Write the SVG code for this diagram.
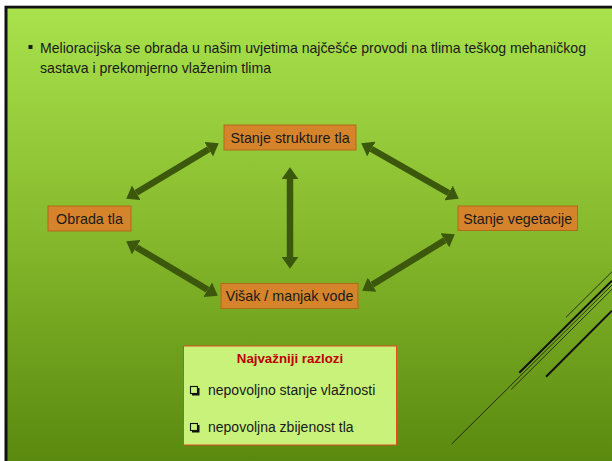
<svg xmlns="http://www.w3.org/2000/svg" width="612" height="461" viewBox="0 0 612 461">
<defs>
<linearGradient id="bg" x1="0" y1="0" x2="0" y2="1">
<stop offset="0" stop-color="#a9e24d"/>
<stop offset="0.5" stop-color="#86b92c"/>
<stop offset="1" stop-color="#5a890f"/>
</linearGradient>
<marker id="ah" viewBox="0 0 1.8 2.6" refX="0" refY="1.3" markerWidth="1.8" markerHeight="2.6" markerUnits="strokeWidth" orient="auto-start-reverse">
<path d="M0,0 L1.8,1.3 L0,2.6 Z" fill="#3b580c"/>
</marker>
</defs>
<style>
.node rect{fill:#d5842b;stroke:#b06a1c;stroke-width:1}
.node text{font-family:"Liberation Sans",Arial,sans-serif;font-size:14.3px;fill:#1a1a1a;text-anchor:middle}
.conn path{fill:none;stroke:#3b580c;stroke-width:6.5;marker-start:url(#ah);marker-end:url(#ah)}
.hdr{font-family:"Liberation Sans",Arial,sans-serif;font-size:14.1px;fill:#1a1a1a}
.deco line{stroke:#111;stroke-linecap:butt}
.box text{font-family:"Liberation Sans",Arial,sans-serif;font-size:14px;fill:#1a1a1a}
</style>
<rect x="0" y="0" width="612" height="461" fill="#ffffff"/>
<rect x="4.5" y="5.7" width="607.5" height="455.3" fill="#111"/>
<rect x="7.5" y="8.5" width="604.5" height="452.5" fill="url(#bg)"/>

<g id="header">
<rect x="28.5" y="45" width="4" height="4" fill="#1a1a1a"/>
<text class="hdr" x="40" y="52.5">Melioracijska se obrada u našim uvjetima najčešće provodi na tlima teškog mehaničkog</text>
<text class="hdr" x="40" y="72.5">sastava i prekomjerno vlaženim tlima</text>
</g>

<g class="deco">
<line x1="566" y1="317.3" x2="612" y2="271.7" stroke-width="0.8"/>
<line x1="519.3" y1="372.7" x2="612" y2="280.7" stroke-width="2"/>
<line x1="511.3" y1="389.3" x2="612" y2="289.3" stroke-width="0.8"/>
<line x1="451.7" y1="444" x2="612" y2="285" stroke-width="0.8"/>
<line x1="546" y1="376.7" x2="612" y2="310.7" stroke-width="2"/>
</g>

<g class="conn" id="connectors">
<path d="M136.3,192.8 L208.7,149.2"/>
<path d="M290,179 L290,257"/>
<path d="M136.3,247.2 L207.7,289.8"/>
<path d="M371.4,149 L448.6,193"/>
<path d="M372.2,284.7 L444.8,240.3"/>
</g>

<g class="node" id="struktura">
<rect x="224" y="125" width="132" height="25"/>
<text x="290" y="142.5">Stanje strukture tla</text>
</g>
<g class="node" id="obrada">
<rect x="48" y="206" width="83" height="25"/>
<text x="89.5" y="223.5">Obrada tla</text>
</g>
<g class="node" id="vegetacija">
<rect x="458" y="206" width="119.5" height="24.5"/>
<text x="517.7" y="223.5">Stanje vegetacije</text>
</g>
<g class="node" id="visak">
<rect x="221" y="283.5" width="137" height="25"/>
<text x="289.5" y="301">Višak / manjak vode</text>
</g>

<g class="box" id="razlozi">
<rect x="183.5" y="346" width="213" height="99" fill="#c9f27b" stroke="#e04a24" stroke-width="1"/>
<text x="290" y="363" text-anchor="middle" font-weight="bold" style="fill:#c00000;font-size:13.3px">Najvažniji razlozi</text>
<rect x="192" y="388" width="7.5" height="7.5" fill="#111"/>
<rect x="190.5" y="386.5" width="7" height="7" fill="#c9f27b" stroke="#111" stroke-width="1.1"/>
<text x="208" y="394.5">nepovoljno stanje vlažnosti</text>
<rect x="192" y="425" width="7.5" height="7.5" fill="#111"/>
<rect x="190.5" y="423.5" width="7" height="7" fill="#c9f27b" stroke="#111" stroke-width="1.1"/>
<text x="208" y="431.5">nepovoljna zbijenost tla</text>
</g>
</svg>
